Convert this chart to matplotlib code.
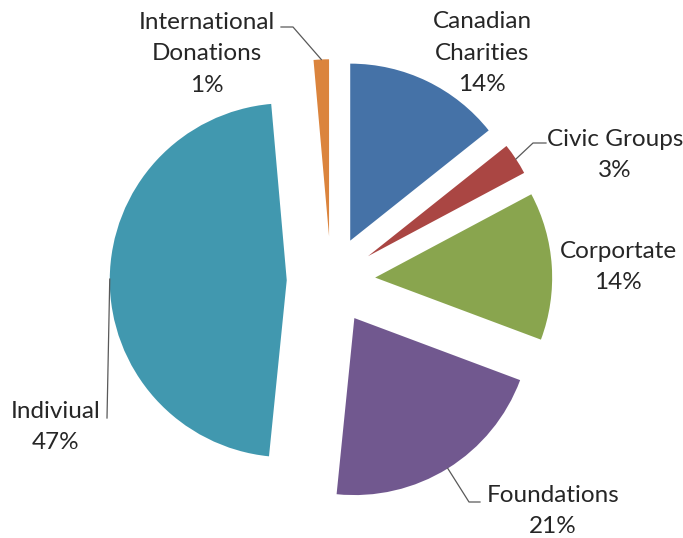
import matplotlib.pyplot as plt
import numpy as np

labels = ["Canadian\nCharities", "Civic Groups", "Corportate", "Foundations",
          "Indiviual", "International\nDonations"]
values = [14.3, 2.9, 13.5, 20.9, 47.0, 1.4]
colors = ["#4572A7", "#AA4643", "#89A54E", "#71588F", "#4198AF", "#DB843D"]

W, H = 683, 538
CX, CY, R = 331, 280.5, 177  # pie centre and radius, pixels


def px(x, y):
    # pixel position (y down) -> data coords of the pie axes
    return (x - CX) / R, (CY - y) / R


# label block centres, pixels
label_pos = [(482, 53), (615, 155), (618, 267), (553, 511), (56, 427), (207, 54)]
# text side of the leader lines (None = no leader)
leader_pts = [None, [(546, 143), (533, 143)], None, [(480, 502), (469, 502)],
              [(107, 418)], [(281, 27), (293, 27)]]

fig = plt.figure(figsize=(W / 100, H / 100), dpi=100)
ax = fig.add_axes([0, 0, 1, 1])
wedges, _ = ax.pie(values, colors=colors, startangle=90, counterclock=False,
                   explode=[0.25] * len(values), radius=1,
                   wedgeprops=dict(linewidth=0))
ax.set_xlim(-CX / R, (W - CX) / R)
ax.set_ylim((CY - H) / R, CY / R)
ax.set_aspect("equal")
ax.axis("off")

for w, lab, v, pos, lead in zip(wedges, labels, values, label_pos, leader_pts):
    tx, ty = px(*pos)
    ax.text(tx, ty, f"{lab}\n{int(v + 0.5)}%", ha="center", va="center",
            fontsize=17.5, family="Lato", color="#262626", linespacing=1.62)
    if lead:
        mid = np.deg2rad((w.theta1 + w.theta2) / 2)
        arc = (w.center[0] + w.r * np.cos(mid), w.center[1] + w.r * np.sin(mid))
        pts = [px(*p) for p in lead] + [arc]
        ax.plot([p[0] for p in pts], [p[1] for p in pts], color="#595959", lw=0.9)

fig.savefig("out.png", dpi=100)
